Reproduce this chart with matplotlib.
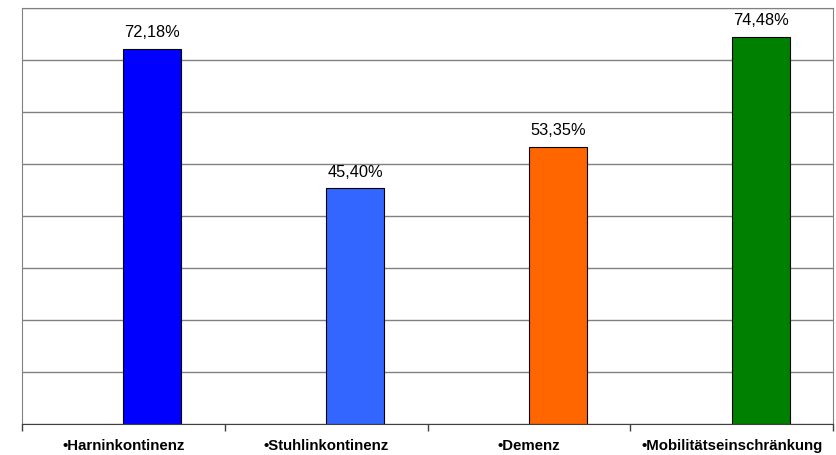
import numpy as np
import matplotlib

matplotlib.use('Agg')
import matplotlib.pyplot as plt

categories = ['Harninkontinenz', 'Stuhlinkontinenz', 'Demenz', 'Mobilitätseinschränkung']
values = [72.18, 45.40, 53.35, 74.48]
colors = ['#0000FF', '#3366FF', '#FF6600', '#008000']

plt.rcParams['font.family'] = ['Liberation Sans', 'DejaVu Sans']

fig = plt.figure(figsize=(8.36, 4.55), dpi=100)
ax = fig.add_axes([22 / 836, 31 / 455, 811 / 836, 416 / 455])

x = np.arange(len(categories))
bar_w = 0.286
bars = ax.bar(x, values, width=bar_w, align='edge', color=colors,
              edgecolor='black', linewidth=0.8, zorder=3)

for b, v in zip(bars, values):
    label = ('%.2f%%' % v).replace('.', ',')
    ax.annotate(label, (b.get_x() + b.get_width() / 2, v),
                xytext=(0, 6), textcoords='offset points',
                ha='center', va='bottom', fontsize=11.8)

ax.set_xlim(-0.5, len(categories) - 0.5)
ax.set_ylim(0, 80)
ax.set_yticks(np.arange(0, 81, 10))
ax.yaxis.grid(True, color='#808080', linewidth=1.0, zorder=0)
ax.tick_params(axis='y', left=False, labelleft=False)

# boundary ticks between categories, labels centred on each category
ax.set_xticks(np.arange(-0.5, len(categories)), minor=False)
ax.set_xticklabels([])
ax.set_xticks(x, minor=True)
ax.set_xticklabels(['\u2022' + c for c in categories], minor=True,
                   fontsize=10.8, fontweight='bold')
ax.tick_params(axis='x', which='major', direction='out', length=5,
               width=1, color='#404040')
ax.tick_params(axis='x', which='minor', length=0, pad=11)

for side in ['left', 'right', 'top']:
    ax.spines[side].set_color('#808080')
ax.spines['bottom'].set_color('#404040')
ax.spines['bottom'].set_zorder(4)

fig.savefig('out.png', dpi=100)
